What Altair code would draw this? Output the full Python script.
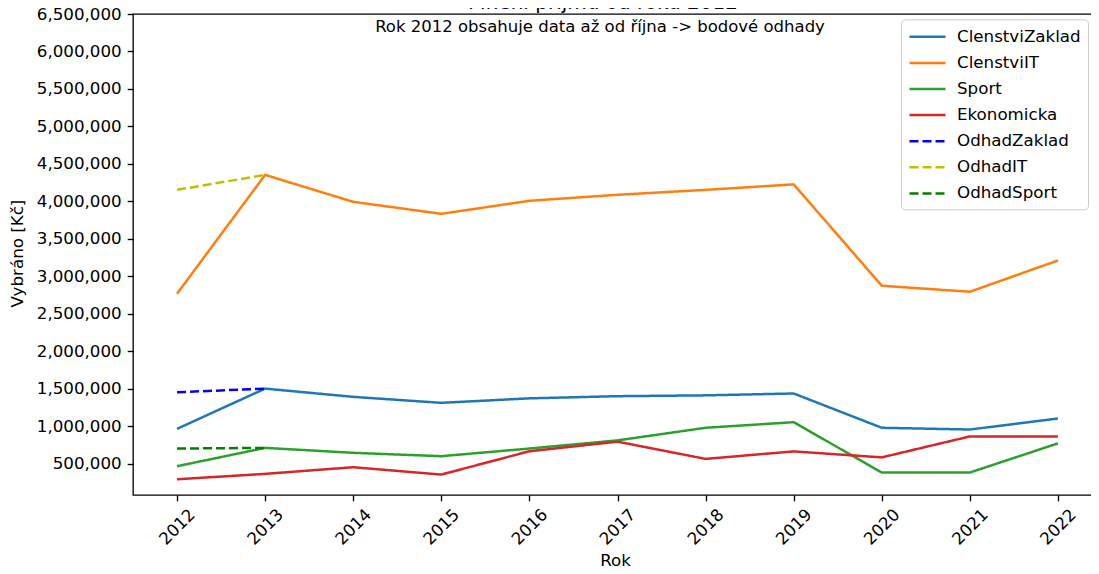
import altair as alt
import pandas as pd

years = [2012, 2013, 2014, 2015, 2016, 2017, 2018, 2019, 2020, 2021, 2022]
clenstvi_zaklad = [963000, 1500000, 1390000, 1310000, 1370000, 1399000, 1410000, 1435000, 977000, 954000, 1101000]
clenstvi_it = [2767000, 4353000, 3993000, 3833000, 4007000, 4087000, 4153000, 4226000, 2873000, 2793000, 3211000]
sport = [464000, 709000, 643000, 598000, 700000, 809000, 977000, 1052000, 380000, 380000, 769000]
ekonomicka = [290000, 362000, 451000, 353000, 664000, 792000, 562000, 662000, 582000, 862000, 862000]

odhad_years = [2012, 2013]
odhad_zaklad = [1451000, 1500000]
odhad_it = [4153000, 4353000]
odhad_sport = [700000, 709000]

series_names = ["ClenstviZaklad", "ClenstviIT", "Sport", "Ekonomicka",
                "OdhadZaklad", "OdhadIT", "OdhadSport"]
series_colors = ["#1f77b4", "#ff7f0e", "#2ca02c", "#d62728",
                 "#0000ff", "#bfbf00", "#008000"]
series_dashes = [[1, 0], [1, 0], [1, 0], [1, 0], [9, 4], [9, 4], [9, 4]]

y_ticks = [500000, 1000000, 1500000, 2000000, 2500000, 3000000, 3500000,
           4000000, 4500000, 5000000, 5500000, 6000000, 6500000]

title_text = "Plnění příjmů od roku 2012"
subtitle_text = "Rok 2012 obsahuje data až od října -> bodové odhady"

rows = []
for name, vals, yrs in [
    ("ClenstviZaklad", clenstvi_zaklad, years),
    ("ClenstviIT", clenstvi_it, years),
    ("Sport", sport, years),
    ("Ekonomicka", ekonomicka, years),
    ("OdhadZaklad", odhad_zaklad, odhad_years),
    ("OdhadIT", odhad_it, odhad_years),
    ("OdhadSport", odhad_sport, odhad_years),
]:
    for y, v in zip(yrs, vals):
        rows.append({"Rok": y, "Vybrano": v, "series": name,
                     "order": series_names.index(name)})
df = pd.DataFrame(rows)

FONT = "DejaVu Sans"
FS = 16.7
W = 969
H = 481

legend = alt.Legend(
    title=None, orient="none", legendX=768, legendY=5.3,
    symbolType="M-1,0H3", symbolSize=324, symbolStrokeWidth=2.5,
    labelFont=FONT, labelFontSize=FS, labelColor="black",
    labelOffset=28, padding=7, rowPadding=6.1,
    strokeColor="#cccccc", fillColor="rgba(255,255,255,0.8)", cornerRadius=4,
)

lines = alt.Chart(df).mark_line(strokeWidth=2.5, clip=True).encode(
    x=alt.X("Rok:Q",
            scale=alt.Scale(domain=[2011.5, 2022.5], nice=False, zero=False),
            axis=alt.Axis(values=years, format="d", labelAngle=315,
                          labelAlign="center", labelBaseline="middle",
                          labelPadding=26, title="Rok",
                          titleX=482, titleY=70, titleBaseline="alphabetic")),
    y=alt.Y("Vybrano:Q",
            scale=alt.Scale(domain=[80000, 6500000], nice=False, zero=False),
            axis=alt.Axis(values=y_ticks, format=",.0f", labelPadding=6,
                          title="Vybráno [Kč]", titleAngle=270,
                          titleX=-110.3, titleY=239, titleAlign="center",
                          titleBaseline="alphabetic")),
    color=alt.Color("series:N",
                    scale=alt.Scale(domain=series_names, range=series_colors),
                    legend=legend),
    strokeDash=alt.StrokeDash("series:N",
                              scale=alt.Scale(domain=series_names, range=series_dashes),
                              legend=legend),
    detail="series:N",
    order=alt.Order("order:Q"),
)

title_df = pd.DataFrame({"t": [title_text]})
title_mark = alt.Chart(title_df).mark_text(
    font=FONT, fontSize=20, color="black", align="center", baseline="alphabetic"
).encode(text="t:N", x=alt.value(470), y=alt.value(-4.7))

sub_df = pd.DataFrame({"t": [subtitle_text]})
sub_mark = alt.Chart(sub_df).mark_text(
    font=FONT, fontSize=16.5, color="black", align="center", baseline="alphabetic"
).encode(text="t:N", x=alt.value(467), y=alt.value(17.8))

chart = alt.layer(lines, sub_mark, title_mark).properties(
    width=W, height=H,
    padding={"left": 125, "top": 6, "right": -11, "bottom": 71},
    autosize=alt.AutoSizeParams(type="none"),
).configure_view(
    stroke="black", strokeWidth=1.33
).configure_axis(
    labelFont=FONT, labelFontSize=FS, labelColor="black",
    titleFont=FONT, titleFontSize=FS, titleColor="black", titleFontWeight="normal",
    tickColor="black", tickWidth=1.33, tickSize=5.8,
    domain=False, grid=False,
)

chart.save("out.html", embed_options={"renderer": "svg", "actions": False})
